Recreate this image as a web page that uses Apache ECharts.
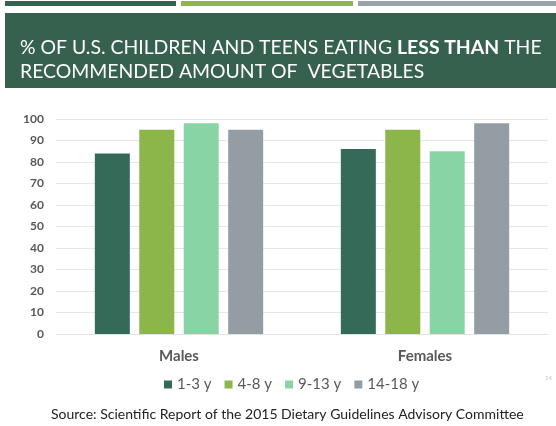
<!DOCTYPE html>
<html><head><meta charset="utf-8">
<script src="https://cdn.jsdelivr.net/npm/echarts@6/dist/echarts.min.js"></script>
<style>html,body{margin:0;padding:0;background:#fff}#c{width:556px;height:426px}</style>
</head><body><div id="c"></div>
<script>
const categories = ['Males', 'Females'];
const seriesNames = ['1-3 y', '4-8 y', '9-13 y', '14-18 y'];
const age1to3 = [84, 86];
const age4to8 = [95, 95];
const age9to13 = [98, 85];
const age14to18 = [95, 98];
const yTicks = [0, 10, 20, 30, 40, 50, 60, 70, 80, 90, 100];
const colors = ['#356a58', '#8cb54a', '#88d4a5', '#959da4'];
const values = [age1to3, age4to8, age9to13, age14to18];

const chart = echarts.init(document.getElementById('c'), null, {renderer: 'canvas'});
const font = 'Lato, "Open Sans", sans-serif';
chart.setOption({
  animation: false,
  graphic: [
    {type: 'rect', shape: {x: 5, y: 1, width: 171, height: 5}, style: {fill: '#37614f'}},
    {type: 'rect', shape: {x: 181, y: 1, width: 172, height: 5}, style: {fill: '#8db54b'}},
    {type: 'rect', shape: {x: 358, y: 1, width: 198, height: 5}, style: {fill: '#9aa3ab'}},
    {type: 'rect', shape: {x: 5, y: 13, width: 551, height: 75}, style: {fill: '#37614f'}},
    {type: 'text', left: 545, top: 375, style: {text: '14', fill: '#c8c8c8', font: '6px ' + font}}
  ],
  title: [{
    text: '{n|% OF U.S. CHILDREN AND TEENS EATING }{b|LESS THAN}{n| THE}\n{n|RECOMMENDED AMOUNT OF  VEGETABLES}',
    left: 15, top: 31,
    textStyle: {
      fontWeight: 'normal',
      rich: {
        n: {color: '#ffffff', fontSize: 19.4, fontFamily: font, fontWeight: 'normal', lineHeight: 24},
        b: {color: '#ffffff', fontSize: 19.4, fontFamily: font, fontWeight: 'bold', lineHeight: 24}
      }
    }
  }, {
    text: 'Source: Scientific Report of the 2015 Dietary Guidelines Advisory Committee',
    left: 46, top: 402,
    textStyle: {color: '#222', fontSize: 14, fontFamily: font, fontWeight: 'normal'}
  }],
  legend: {
    data: seriesNames,
    top: 372,
    left: 159,
    itemWidth: 8, itemHeight: 8, itemGap: 13,
    icon: 'rect',
    textStyle: {color: '#595959', fontSize: 15, fontFamily: font}
  },
  grid: {left: 56, right: 8, top: 119, bottom: 92, containLabel: false},
  xAxis: {
    type: 'category', data: categories,
    axisLine: {lineStyle: {color: '#e3e3e3'}},
    axisTick: {show: false},
    axisLabel: {color: '#595959', fontSize: 15, fontWeight: 'bold', fontFamily: font, margin: 15}
  },
  yAxis: {
    type: 'value', min: 0, max: 100, interval: 10,
    axisLine: {show: false}, axisTick: {show: false},
    splitLine: {lineStyle: {color: '#e6e6e6'}},
    axisLabel: {color: '#595959', fontSize: 12, fontWeight: 'bold', fontFamily: font, margin: 12,
      formatter: v => yTicks.includes(v) ? String(v) : ''}
  },
  series: seriesNames.map((n, i) => ({
    name: n, type: 'bar', data: values[i], barWidth: 35, barGap: '27%',
    itemStyle: {color: colors[i]}
  }))
});
</script></body></html>
